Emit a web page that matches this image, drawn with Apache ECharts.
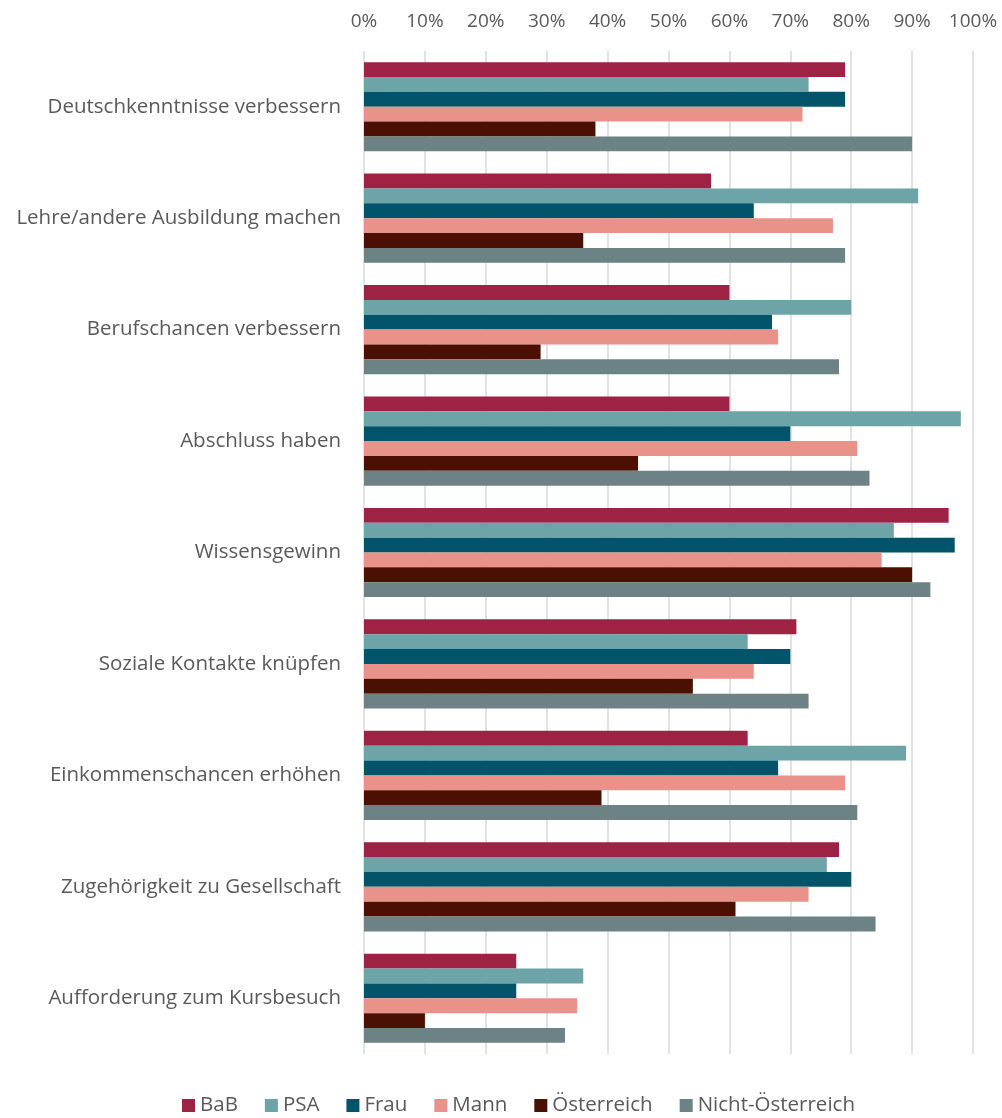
<!DOCTYPE html>
<html>
<head>
<meta charset="utf-8">
<script src="https://cdn.jsdelivr.net/npm/echarts@6/dist/echarts.min.js"></script>
<style>
  html, body { margin: 0; padding: 0; background: #fff; }
  #chart { width: 1002px; height: 1118px; }
</style>
</head>
<body>
<div id="chart"></div>
<script>
  // Kategorien (von oben nach unten)
  const categories = [
    'Deutschkenntnisse verbessern',
    'Lehre/andere Ausbildung machen',
    'Berufschancen verbessern',
    'Abschluss haben',
    'Wissensgewinn',
    'Soziale Kontakte knüpfen',
    'Einkommenschancen erhöhen',
    'Zugehörigkeit zu Gesellschaft',
    'Aufforderung zum Kursbesuch'
  ];
  const seriesNames = ['BaB', 'PSA', 'Frau', 'Mann', 'Österreich', 'Nicht-Österreich'];

  // Werte in %
  const bab        = [79, 57, 60, 60, 96, 71, 63, 78, 25];
  const psa        = [73, 91, 80, 98, 87, 63, 89, 76, 36];
  const frau       = [79, 64, 67, 70, 97, 70, 68, 80, 25];
  const mann       = [72, 77, 68, 81, 85, 64, 79, 73, 35];
  const oesterreich = [38, 36, 29, 45, 90, 54, 39, 61, 10];
  const nichtOe    = [90, 79, 78, 83, 93, 73, 81, 84, 33];

  const values = [bab, psa, frau, mann, oesterreich, nichtOe];
  const colors = ['#9E2243', '#6CA4A7', '#02546A', '#E8928A', '#4C1002', '#6C8284'];
  const font = '"Open Sans", Lato, sans-serif';

  const chart = echarts.init(document.getElementById('chart'));
  const option = {
    color: colors,
    animation: false,
    textStyle: { fontFamily: font },
    grid: { left: 364, right: 29, top: 51, bottom: 64, containLabel: false },
    legend: {
      data: seriesNames,
      bottom: -3,
      left: 177,
      icon: 'rect',
      itemWidth: 13,
      itemHeight: 13,
      itemGap: 27,
      textStyle: { fontSize: 20.5, color: '#595959', fontFamily: font }
    },
    xAxis: {
      type: 'value',
      position: 'top',
      min: 0,
      max: 100,
      interval: 10,
      axisLine: { show: false },
      axisTick: { show: false },
      axisLabel: {
        formatter: '{value}%',
        fontSize: 19,
        color: '#595959',
        margin: 20
      },
      splitLine: { lineStyle: { color: '#D9D9D9', width: 1.5 } }
    },
    yAxis: {
      type: 'category',
      inverse: true,
      data: categories,
      axisLine: { show: false },
      axisTick: { show: false },
      axisLabel: {
        fontSize: 20.5,
        color: '#595959',
        margin: 23
      }
    },
    series: seriesNames.map((name, i) => ({
      name: name,
      type: 'bar',
      data: values[i],
      barGap: '0%',
      barCategoryGap: '20%'
    }))
  };
  chart.setOption(option);
  window.addEventListener('resize', function () {
    chart.resize();
  });
</script>
</body>
</html>
